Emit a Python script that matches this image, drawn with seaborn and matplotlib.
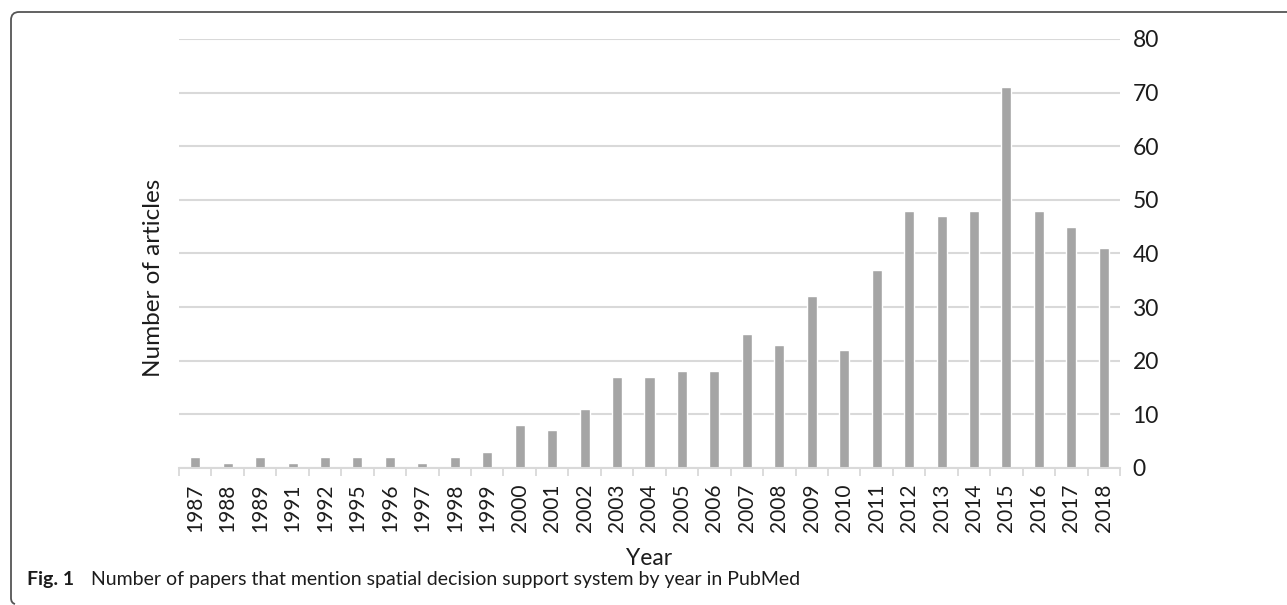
import matplotlib
matplotlib.use("Agg")
import matplotlib.pyplot as plt
from matplotlib.path import Path
from matplotlib.patches import PathPatch
from matplotlib.ticker import FixedLocator
import numpy as np
import pandas as pd
import seaborn as sns

years = ["1987", "1988", "1989", "1991", "1992", "1995", "1996", "1997", "1998",
         "1999", "2000", "2001", "2002", "2003", "2004", "2005", "2006", "2007",
         "2008", "2009", "2010", "2011", "2012", "2013", "2014", "2015", "2016",
         "2017", "2018"]
articles = [2, 1, 2, 1, 2, 2, 2, 1, 2, 3, 8, 7, 11, 17, 17, 18, 18, 25,
            23, 32, 22, 37, 48, 47, 48, 71, 48, 45, 41]
y_ticks = [0, 10, 20, 30, 40, 50, 60, 70, 80]

df = pd.DataFrame({"Year": years, "Articles": articles})

sns.set_theme(style="white")
plt.rcParams["font.family"] = ["Lato", "DejaVu Sans"]

W, H = 1287, 605
left, right, top, bottom = 179, 1120, 39, 468
fig = plt.figure(figsize=(W / 100, H / 100), dpi=100)
ax = fig.add_axes([left / W, 1 - bottom / H, (right - left) / W, (bottom - top) / H])

grid_c = "#d9d9d9"
text_c = "#1c1c1c"
ax.set_axisbelow(True)
ax.yaxis.grid(True, color=grid_c, linewidth=1.5)

sns.barplot(data=df, x="Year", y="Articles", color="#a5a5a5", width=0.31,
            saturation=1, ax=ax, zorder=2)

ax.set_xlim(-0.5, len(years) - 0.5)
ax.set_ylim(0, 80)
ax.yaxis.set_major_locator(FixedLocator(y_ticks))

for s in ["top", "left", "right"]:
    ax.spines[s].set_visible(False)
ax.spines["bottom"].set_color(grid_c)
ax.spines["bottom"].set_linewidth(1.5)
ax.spines["bottom"].set_zorder(3)

ax.yaxis.tick_right()
ax.yaxis.set_label_position("left")
ax.tick_params(axis="y", which="both", length=0, pad=9, labelsize=16.5,
               labelcolor=text_c)

# category boundary ticks on the x axis
ax.xaxis.set_minor_locator(FixedLocator(np.arange(-0.5, len(years), 1.0)))
ax.tick_params(axis="x", which="major", length=0, pad=11, labelsize=15,
               labelrotation=90, labelcolor=text_c)
ax.tick_params(axis="x", which="minor", length=6, width=1.3, color=grid_c,
               direction="out", bottom=True)

ax.set_xlabel("Year", fontsize=16.5, color=text_c)
ax.xaxis.label.set_va("baseline")
ax.xaxis.set_label_coords(0.5, -(565 - bottom) / (bottom - top))

ax.set_ylabel("Number of articles", fontsize=17.5, color=text_c)
ax.yaxis.label.set_va("center")
ax.yaxis.set_label_coords((154 - left) / (right - left), (bottom - 278) / (bottom - top))

# caption
fig.text(27 / W, 1 - 579 / H, "Fig. 1", fontsize=14, fontweight="bold",
         color=text_c, va="center", ha="left")
fig.text(91 / W, 1 - 579 / H,
         "Number of papers that mention spatial decision support system by year in PubMed",
         fontsize=14, color=text_c, va="center", ha="left")

# frame: top rule and left rule with rounded corners
x0, y0, r = 11 / W, 1 - 12 / H, 8
rx, ry = r / W, r / H
verts = [(1.0, y0), (x0 + rx, y0), (x0, y0), (x0, y0 - ry),
         (x0, 1 - 598 / H), (x0, 1 - 603 / H), (x0 + 4 / W, 1 - 604 / H)]
codes = [Path.MOVETO, Path.LINETO, Path.CURVE3, Path.CURVE3,
         Path.LINETO, Path.CURVE3, Path.CURVE3]
fig.add_artist(PathPatch(Path(verts, codes), transform=fig.transFigure,
                         fill=False, edgecolor="#555555", linewidth=1.3))

fig.savefig("out.png", dpi=100)
